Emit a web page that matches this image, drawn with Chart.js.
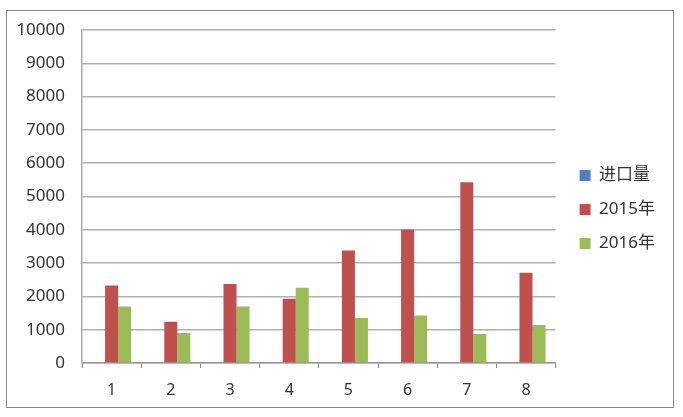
<!DOCTYPE html>
<html>
<head>
<meta charset="utf-8">
<script src="https://cdn.jsdelivr.net/npm/chart.js@4/dist/chart.umd.min.js"></script>
<style>
  html, body { margin: 0; padding: 0; background: #fff; }
  #wrap { position: relative; width: 683px; height: 417px; }
  #frame { position: absolute; left: 6px; top: 10px; width: 668px; height: 398px; border: 1px solid #8a8a8a; box-sizing: border-box; pointer-events: none; }
  canvas { position: absolute; left: 0; top: 0; }
</style>
</head>
<body>
<div id="wrap">
  <canvas id="chart" width="683" height="417"></canvas>
  <div id="frame"></div>
</div>
<script>
const categories = ['1', '2', '3', '4', '5', '6', '7', '8'];
const seriesNames = ['进口量', '2015年', '2016年'];
const imports = [null, null, null, null, null, null, null, null];
const values2015 = [2330, 1240, 2370, 1930, 3380, 4010, 5430, 2710];
const values2016 = [1700, 900, 1700, 2260, 1350, 1430, 870, 1140];
const yTicks = [0, 1000, 2000, 3000, 4000, 5000, 6000, 7000, 8000, 9000, 10000];

const font = { family: "'Noto Sans', 'Noto Sans CJK SC', sans-serif", size: 16 };

// nudge the legend to where it sits in the original
const legendShift = {
  id: 'legendShift',
  afterLayout(chart) {
    const lg = chart.legend;
    lg.top -= 14; lg.bottom -= 14;
    lg.left += 7; lg.right += 7;
  }
};

new Chart(document.getElementById('chart').getContext('2d'), {
  type: 'bar',
  data: {
    labels: categories,
    datasets: [
      { label: seriesNames[0], data: imports, backgroundColor: '#4f81bd' },
      { label: seriesNames[1], data: values2015, backgroundColor: '#c0504d' },
      { label: seriesNames[2], data: values2016, backgroundColor: '#9bbb59' }
    ]
  },
  options: {
    responsive: false,
    animation: false,
    datasets: { bar: { barPercentage: 1, categoryPercentage: 0.66 } },
    layout: { padding: { top: 30, right: 25, bottom: 0, left: 0 } },
    plugins: {
      tooltip: { enabled: false },
      legend: {
        position: 'right',
        labels: { font: { family: font.family, size: 17 }, color: '#333', boxWidth: 11, boxHeight: 11, padding: 17 }
      }
    },
    scales: {
      x: {
        grid: { drawOnChartArea: false, offset: true, tickLength: 5, color: '#888' },
        border: { color: '#999', width: 1.5 },
        ticks: { font: font, color: '#333', padding: 13 },
        afterFit: s => { s.height = 54; }
      },
      y: {
        min: 0,
        max: 10000,
        afterBuildTicks: s => { s.ticks = yTicks.map(v => ({ value: v })); },
        grid: { drawTicks: false, color: '#b0b0b0', lineWidth: 1.5 },
        border: { color: '#aaa', width: 1.5 },
        ticks: { font: { family: font.family, size: 17 }, color: '#333', padding: 17, callback: v => String(v) },
        afterFit: s => { s.width = 82; }
      }
    }
  },
  plugins: [legendShift]
});
</script>
</body>
</html>
